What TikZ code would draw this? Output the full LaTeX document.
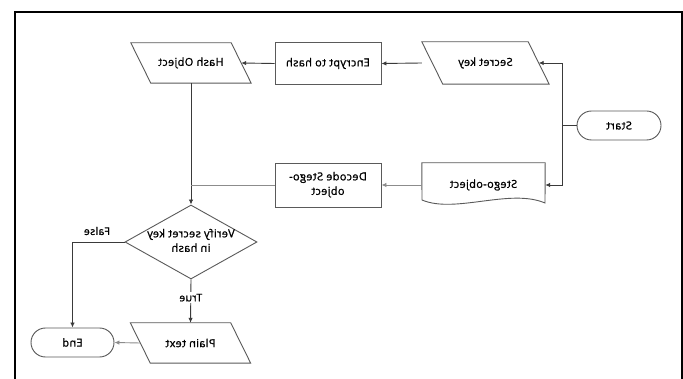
\documentclass[tikz,border=0pt]{standalone}
\usepackage{fontspec}
\setmainfont{Open Sans}[FakeBold=1.2,LetterSpace=3]
\usepackage{graphicx}
\usetikzlibrary{shapes.geometric,arrows.meta}

% every label is set mirrored left to right
\newcommand{\mirrtext}[1]{\scalebox{-1}[1]{#1}}
\newcommand{\mirrtwo}[2]{\scalebox{-1}[1]{\begin{tabular}{@{}c@{}}#1\\[1.5pt]#2\end{tabular}}}

\definecolor{boxline}{HTML}{5A5A5A}
\definecolor{flowline}{HTML}{3A3A3A}
\definecolor{softline}{HTML}{8C8C8C}

\tikzset{
  box/.style={draw=boxline, line width=0.9pt, rectangle, inner sep=1pt},
  % text holder of a parallelogram; the outline is drawn by \iooutline
  iobox/.style={rectangle, inner sep=1pt},
  termbox/.style={draw=boxline, line width=0.9pt, rectangle, rounded corners=14.5pt,
    minimum width=84pt, minimum height=29pt},
  decision/.style={draw=boxline, line width=0.9pt, diamond, inner sep=0pt,
    minimum width=132pt, minimum height=74pt},
  flow/.style={draw=flowline, line width=0.9pt},
  soft/.style={draw=softline, line width=0.9pt},
  tip/.style={-{Latex[length=5pt,width=4.5pt]}},
  lbl/.style={font=\fontsize{10.5}{12}\selectfont, text=black}
}

% parallelogram outline round node #1, its top edge shifted left by #2
\newcommand{\iooutline}[2]{%
  \draw[boxline, line width=0.9pt]
    ([xshift=-#2/2]#1.north west) -- ([xshift=-#2/2]#1.north east)
    -- ([xshift=#2/2]#1.south east) -- ([xshift=#2/2]#1.south west) -- cycle;}

\begin{document}
\begin{tikzpicture}[x=1pt, y=-1pt, font=\fontsize{11}{13}\selectfont]
\useasboundingbox (0,0) rectangle (683,379);
\fill[white] (0,0) rectangle (683,379);
\draw[black, line width=1.2pt] (15,12) rectangle (682,390);

% top row
\node[iobox, minimum width=100pt, minimum height=40pt] (hash) at (191,63) {\mirrtext{Hash Object}};
\iooutline{hash}{20pt}
\node[box, minimum width=106pt, minimum height=42pt] (enc) at (328,63.5) {\mirrtext{Encrypt to hash}};
\node[iobox, minimum width=106pt, minimum height=42pt] (key) at (485.5,63) {\mirrtext{Secret key}};
\iooutline{key}{21pt}

% start terminal
\node[termbox] (start) at (619,125.5) {\mirrtext{Start}};

% middle row
\node[box, minimum width=106pt, minimum height=44pt] (dec) at (328,185) {\mirrtwo{Decode Stego-}{object}};
\node[minimum width=123pt, minimum height=44pt, inner sep=0pt] (stego) at (483.5,185) {\raisebox{-1.5pt}{\mirrtext{Stego-object}}};
\draw[boxline, line width=0.9pt]
  (stego.north west) -- (stego.north east) -- (545,203)
  .. controls (510,188) and (455,214) .. (422,200) -- cycle;

% decision: fixed-size outline with its text set on top
\node[decision] (ver) at (191,242) {};
\node (vertext) at (ver.center) {\mirrtwo{Verify secret key}{in hash}};

% bottom row
\node[iobox, minimum width=100pt, minimum height=40pt] (plain) at (190.5,343) {\mirrtext{Plain text}};
\iooutline{plain}{20pt}
\node[termbox, minimum width=83pt] (end) at (72.5,342.5) {\mirrtext{End}};

% connectors
\coordinate (split) at (562,125.5);
\draw[flow] (start.west) -- (split);
\draw[flow, tip] (split) |- (key.east);
\draw[flow, tip] (split) |- (stego.east);
\draw[flow, tip] ([xshift=-10.5pt]key.west) -- (enc.east);
\draw[flow, tip] (enc.west) -- (hash.east);
\draw[flow, tip] (hash.south) -- (ver.north);
\draw[soft, tip] (stego.west) -- (dec.east);
\draw[soft] (dec.west) -- (dec.west -| hash.south);
\draw[flow, tip] (ver.west) -| (end.north);
\node[lbl] (flabel) at (97,231) {\mirrtext{False}};
\draw[flow, tip] (ver.south) -- node[lbl, fill=white, pos=0.42, inner sep=2pt] (tlabel) {\mirrtext{True}} (plain.north);
\draw[soft, tip] (plain.west) -- (end.east);
\end{tikzpicture}
\end{document}
